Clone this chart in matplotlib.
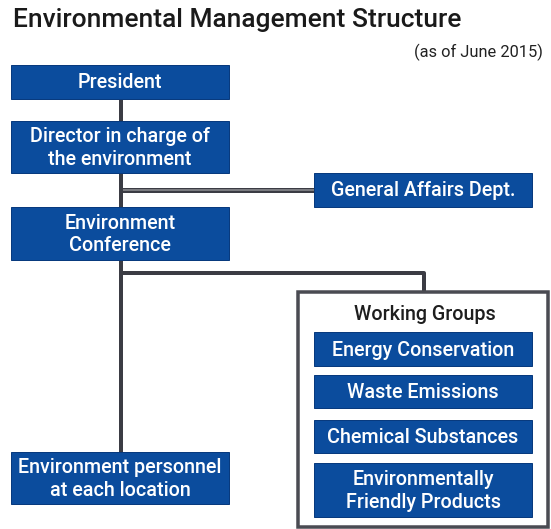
import matplotlib
matplotlib.use("Agg")
import matplotlib.pyplot as plt
from matplotlib.patches import Rectangle

# Text content
title = "Environmental Management Structure"
subtitle = "(as of June 2015)"
main_chain = ["President", "Director in charge of\nthe environment",
              "Environment\nConference", "Environment personnel\nat each location"]
side_unit = "General Affairs Dept."
group_title = "Working Groups"
groups = ["Energy Conservation", "Waste Emissions", "Chemical Substances",
          "Environmentally\nFriendly Products"]

# Layout in pixel coords (x0, y0, x1, y1), y going down
main_boxes = [(11, 65, 229, 99), (11, 121, 229, 173), (11, 207, 229, 260), (11, 452, 229, 504)]
side_box = (314, 173, 532, 207)
outer_box = (298, 292, 548, 527)
group_boxes = [(314, 332, 532, 366), (314, 375, 532, 408), (314, 420, 532, 453), (314, 463, 532, 517)]

BLUE = "#0b4c9d"
EDGE = "#083a7e"
LINE = "#3b3c44"
px = 0.72  # points per pixel at dpi 100

fig = plt.figure(figsize=(5.51, 5.29), dpi=100)
ax = fig.add_axes([0, 0, 1, 1])
ax.set_xlim(0, 551)
ax.set_ylim(529, 0)
ax.axis("off")

box_font = dict(family="Roboto", fontsize=14.2, color="white", ha="center", va="center",
                linespacing=1.22, fontweight="medium")


def blue_box(b, label):
    x0, y0, x1, y1 = b
    ax.add_patch(Rectangle((x0, y0), x1 - x0, y1 - y0, facecolor=BLUE, edgecolor=EDGE,
                           lw=1 * px, zorder=3))
    ax.text((x0 + x1) / 2, (y0 + y1) / 2 + 1, label, zorder=4, **box_font)


# connectors
cx = 121
ax.plot([cx, cx], [99, 452], color=LINE, lw=4 * px, solid_capstyle="butt", zorder=1)
ax.plot([cx, side_box[0]], [190, 190], color=LINE, lw=5 * px, solid_capstyle="butt", zorder=1)
ax.plot([cx + 2, side_box[0]], [190, 190], color="#8a8b90", lw=1.6 * px, solid_capstyle="butt", zorder=2)
wx = 424
ax.plot([cx, wx, wx], [273, 273, outer_box[1]], color=LINE, lw=4 * px, zorder=1)

# outer group frame
ox0, oy0, ox1, oy1 = outer_box
ax.add_patch(Rectangle((ox0, oy0), ox1 - ox0, oy1 - oy0, facecolor="white", edgecolor="#4a4b52",
                       lw=3.5 * px, zorder=2))

for b, lab in zip(main_boxes, main_chain):
    blue_box(b, lab)
blue_box(side_box, side_unit)
for b, lab in zip(group_boxes, groups):
    blue_box(b, lab)

ax.text(425, 314, group_title, family="Roboto", fontsize=14.2, color="#1e1e1e",
        ha="center", va="center", fontweight="medium", zorder=4)

ax.text(13, 20, title, family="Roboto", fontsize=19, color="#1a1a1a", ha="left", va="center",
        fontweight="medium")
ax.text(543, 52, subtitle, family="Roboto", fontsize=11.8, color="#222222", ha="right", va="center")

fig.savefig("out.png", dpi=100)
